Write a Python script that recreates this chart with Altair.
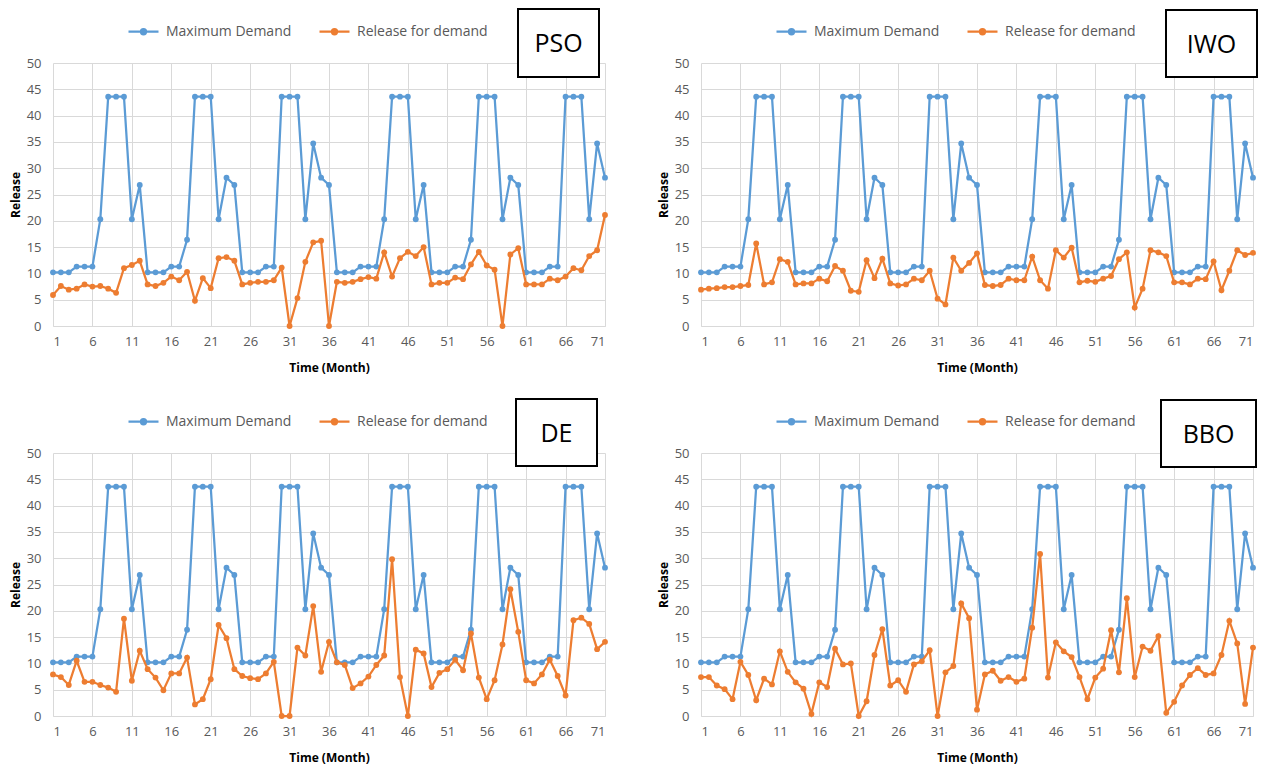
import altair as alt
import pandas as pd

months = list(range(1, 72))

max_demand = [10.2, 10.2, 10.2, 11.3, 11.3, 11.3, 20.3, 43.6, 43.6, 43.6,
              20.3, 26.8, 10.2, 10.2, 10.2, 11.3, 11.3, 16.4, 43.6, 43.6,
              43.6, 20.3, 28.2, 26.8, 10.2, 10.2, 10.2, 11.3, 11.3, 43.6,
              43.6, 43.6, 20.3, 34.7, 28.2, 26.8, 10.2, 10.2, 10.2, 11.3,
              11.3, 11.3, 20.3, 43.6, 43.6, 43.6, 20.3, 26.8, 10.2, 10.2,
              10.2, 11.3, 11.3, 16.4, 43.6, 43.6, 43.6, 20.3, 28.2, 26.8,
              10.2, 10.2, 10.2, 11.3, 11.3, 43.6, 43.6, 43.6, 20.3, 34.7,
              28.2]

release_pso = [5.9, 7.6, 6.9, 7.1, 7.9, 7.5, 7.6, 7.1, 6.3, 11.0,
               11.6, 12.4, 7.9, 7.6, 8.2, 9.4, 8.7, 10.3, 4.8, 9.1,
               7.2, 12.9, 13.1, 12.4, 7.9, 8.2, 8.4, 8.4, 8.7, 11.1,
               0.0, 5.3, 12.2, 15.9, 16.2, 0.0, 8.4, 8.2, 8.4, 8.9,
               9.3, 9.0, 14.0, 9.4, 12.9, 14.1, 13.3, 15.0, 7.9, 8.2,
               8.2, 9.2, 8.9, 11.7, 14.1, 11.5, 10.7, 0.0, 13.6, 14.8,
               7.9, 7.9, 7.9, 9.0, 8.7, 9.4, 11.0, 10.6, 13.3, 14.4,
               21.1]

release_iwo = [6.9, 7.1, 7.2, 7.4, 7.4, 7.6, 7.8, 15.7, 7.9, 8.3,
               12.7, 12.2, 7.9, 8.1, 8.1, 9.0, 8.5, 11.4, 10.5, 6.7,
               6.5, 12.5, 9.1, 12.8, 8.1, 7.7, 7.9, 9.0, 8.7, 10.5,
               5.2, 4.1, 13.0, 10.5, 12.0, 13.8, 7.8, 7.6, 7.8, 9.0,
               8.7, 8.7, 13.2, 8.7, 7.1, 14.4, 13.0, 14.9, 8.3, 8.6,
               8.4, 9.0, 9.5, 12.7, 14.0, 3.5, 7.1, 14.4, 14.0, 13.3,
               8.3, 8.3, 7.9, 9.0, 8.9, 12.3, 6.8, 10.5, 14.4, 13.5,
               13.9]

release_de = [7.9, 7.4, 5.9, 10.5, 6.5, 6.5, 5.9, 5.4, 4.6, 18.5,
              6.7, 12.4, 8.9, 7.3, 4.9, 8.1, 8.1, 11.1, 2.2, 3.2,
              7.0, 17.3, 14.8, 8.9, 7.6, 7.2, 7.0, 8.1, 10.3, 0.0,
              0.0, 13.0, 11.5, 20.9, 8.4, 14.1, 10.2, 9.7, 5.3, 6.2,
              7.5, 9.7, 11.5, 29.8, 7.4, 0.0, 12.6, 11.9, 5.5, 8.2,
              8.9, 10.7, 8.7, 15.7, 7.3, 3.2, 6.8, 13.6, 24.1, 16.0,
              6.8, 6.2, 7.9, 10.7, 7.6, 3.9, 18.2, 18.7, 17.5, 12.7,
              14.1]

release_bbo = [7.4, 7.4, 5.8, 5.1, 3.2, 10.3, 7.8, 3.0, 7.1, 6.0,
               12.3, 8.4, 6.4, 5.2, 0.4, 6.4, 5.5, 12.8, 9.8, 10.0,
               0.0, 2.8, 11.6, 16.5, 5.8, 6.8, 4.6, 9.8, 10.4, 12.5,
               0.0, 8.3, 9.5, 21.4, 18.6, 1.2, 7.9, 8.6, 6.7, 7.4,
               6.5, 7.1, 16.8, 30.8, 7.3, 14.0, 12.3, 11.2, 7.4, 3.2,
               7.3, 9.0, 16.3, 8.3, 22.4, 7.4, 13.2, 12.4, 15.2, 0.6,
               2.7, 5.8, 7.8, 9.1, 7.8, 8.1, 11.6, 18.1, 13.8, 2.3,
               13.0]

panel_names = ["PSO", "IWO", "DE", "BBO"]
series_names = ["Maximum Demand", "Release for demand"]
x_ticks = list(range(1, 72, 5))
y_ticks = list(range(0, 51, 5))

BLUE = "#5B9BD5"
ORANGE = "#ED7D31"
FONT = "Open Sans"

W, H = 552, 263
# title box placement relative to each plot area: (x0, x1, y0, y1)
boxes = [(465, 546, -54, 14), (465, 556, -53, 14), (463, 544, -54, 13), (460, 555, -53, 14)]

LEGEND_SYMBOL = "M-1,0L1,0M-0.17,0A0.17,0.17,0,1,1,0.17,0A0.17,0.17,0,1,1,-0.17,0Z"


def panel(name, release, box):
    df = pd.DataFrame({
        "month": months + months,
        "value": max_demand + release,
        "series": [series_names[0]] * len(months) + [series_names[1]] * len(months),
    })
    color = alt.Color(
        "series:N",
        scale=alt.Scale(domain=series_names, range=[BLUE, ORANGE]),
        legend=alt.Legend(
            title=None, orient="none", direction="horizontal",
            legendX=74, legendY=-48,
            symbolType=LEGEND_SYMBOL, symbolSize=900, symbolStrokeWidth=2.25,
            labelFont=FONT, labelFontSize=14, labelColor="#595959",
            labelOffset=6, columnPadding=23, padding=0,
        ),
    )
    x = alt.X(
        "month:Q",
        scale=alt.Scale(domain=[1, 71], nice=False, zero=False),
        axis=alt.Axis(values=x_ticks, title="Time (Month)", labelPadding=9,
                      titlePadding=14),
    )
    y = alt.Y(
        "value:Q",
        scale=alt.Scale(domain=[0, 50], nice=False),
        axis=alt.Axis(values=y_ticks, title="Release", labelPadding=12,
                      titlePadding=4, domain=False),
    )
    layers = []
    for s in series_names:
        base = alt.Chart(df).transform_filter(alt.datum.series == s).encode(
            x=x, y=y, color=color)
        layers.append(base.mark_line(strokeWidth=2.25))
        layers.append(base.mark_point(filled=True, size=34, opacity=1))

    lab = pd.DataFrame({"name": [name]})
    x0, x1, y0, y1 = box
    rect = alt.Chart(lab).mark_rect(fill="white", stroke="black", strokeWidth=2).encode(
        x=alt.value(x0), x2=alt.value(x1), y=alt.value(y0), y2=alt.value(y1))
    txt = alt.Chart(lab).mark_text(font=FONT, fontSize=25, color="black",
                                   align="center", baseline="middle").encode(
        x=alt.value((x0 + x1) / 2), y=alt.value((y0 + y1) / 2 + 1), text="name:N")
    return alt.layer(*layers, rect, txt).properties(width=W, height=H)


releases = [release_pso, release_iwo, release_de, release_bbo]
panels = [panel(n, r, b) for n, r, b in zip(panel_names, releases, boxes)]

chart = alt.concat(
    *panels, columns=2, spacing={"row": 127, "column": 96}, bounds="flush"
).resolve_legend(color="independent").resolve_scale(color="independent").properties(
    padding={"left": 1, "top": 0, "right": 0, "bottom": 2},
).configure_view(stroke=None).configure_axis(
    grid=True, gridColor="#D9D9D9", gridWidth=1,
    ticks=False, tickSize=0,
    domainColor="#D9D9D9", domainWidth=1,
    labelFont=FONT, labelFontSize=13, labelColor="#595959",
    titleFont=FONT, titleFontSize=12, titleFontWeight="bold", titleColor="black",
)

chart.save("out.html", embed_options={"renderer": "svg", "actions": False})
